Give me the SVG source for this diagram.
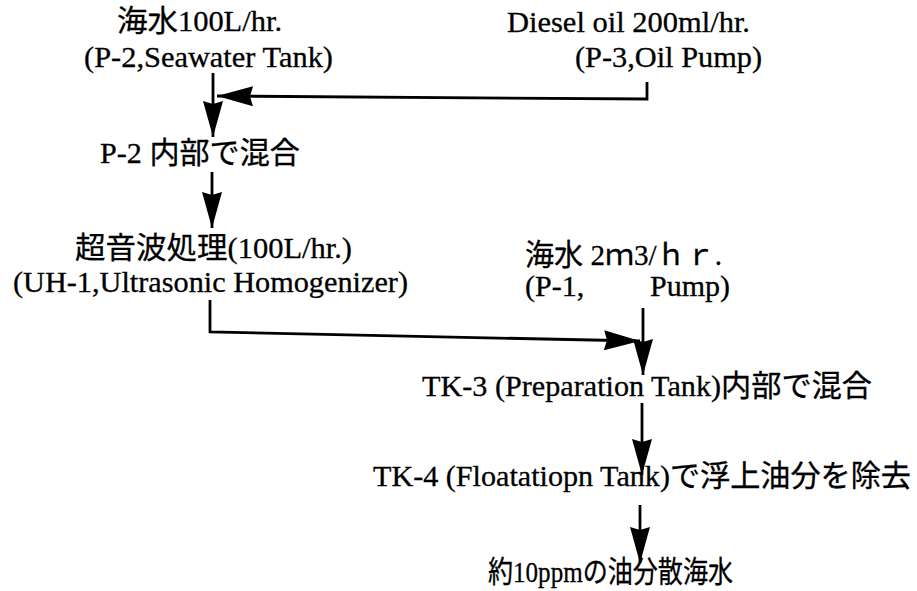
<svg xmlns="http://www.w3.org/2000/svg" width="917" height="591" viewBox="0 0 917 591">
<style>
text{font-family:"Liberation Serif","Noto Sans CJK JP",serif;font-size:30px;fill:#000;stroke:#000;stroke-width:0.3}
.c{fill:none;stroke:#000;stroke-width:2.8}
</style>
<defs>
<marker id="ah" markerUnits="userSpaceOnUse" viewBox="0 0 36 20" markerWidth="36" markerHeight="20" refX="36" refY="10" orient="auto">
<path d="M0,0 L36,10 L0,20 L3,10 z" fill="#000"/>
</marker>
</defs>
<rect width="917" height="591" fill="#fff"/>
<g id="p2">
<text x="117" y="31" textLength="165" lengthAdjust="spacingAndGlyphs">海水100L/hr.</text>
<text x="84" y="67" textLength="249" lengthAdjust="spacingAndGlyphs">(P-2,Seawater Tank)</text>
</g>
<g id="p3">
<text x="507" y="32" textLength="243" lengthAdjust="spacingAndGlyphs">Diesel oil 200ml/hr.</text>
<text x="575" y="67" textLength="187" lengthAdjust="spacingAndGlyphs">(P-3,Oil Pump)</text>
</g>
<g id="mix1">
<text x="100" y="163" textLength="200" lengthAdjust="spacingAndGlyphs">P-2 内部で混合</text>
</g>
<g id="uh1">
<text x="75" y="258" textLength="277" lengthAdjust="spacingAndGlyphs">超音波処理(100L/hr.)</text>
<text x="13" y="292" textLength="395" lengthAdjust="spacingAndGlyphs">(UH-1,Ultrasonic Homogenizer)</text>
</g>
<g id="p1">
<text x="525" y="265" textLength="197" lengthAdjust="spacingAndGlyphs">海水 2ｍ3/ｈｒ.</text>
<text y="296"><tspan x="525">(P-1,</tspan><tspan x="650">Pump)</tspan></text>
</g>
<g id="tk3">
<text x="422" y="396" textLength="450" lengthAdjust="spacingAndGlyphs">TK-3 (Preparation Tank)内部で混合</text>
</g>
<g id="tk4">
<text x="373" y="486" textLength="538" lengthAdjust="spacingAndGlyphs">TK-4 (Floatatiopn Tank)で浮上油分を除去</text>
</g>
<g id="result">
<text x="488" y="582" textLength="245" lengthAdjust="spacingAndGlyphs">約10ppmの油分散海水</text>
</g>
<g id="connectors">
<path class="c" d="M647,82 L647,99 L217,96" marker-end="url(#ah)"/>
<path class="c" d="M213,73 L213,137" marker-end="url(#ah)"/>
<path class="c" d="M212,172 L212,228" marker-end="url(#ah)"/>
<path class="c" d="M210,300 L210,332 L640,341" marker-end="url(#ah)"/>
<path class="c" d="M643,308 L643,375" marker-end="url(#ah)"/>
<path class="c" d="M642,403 L642,475" marker-end="url(#ah)"/>
<path class="c" d="M640,505 L640,563" marker-end="url(#ah)"/>
</g>
</svg>
